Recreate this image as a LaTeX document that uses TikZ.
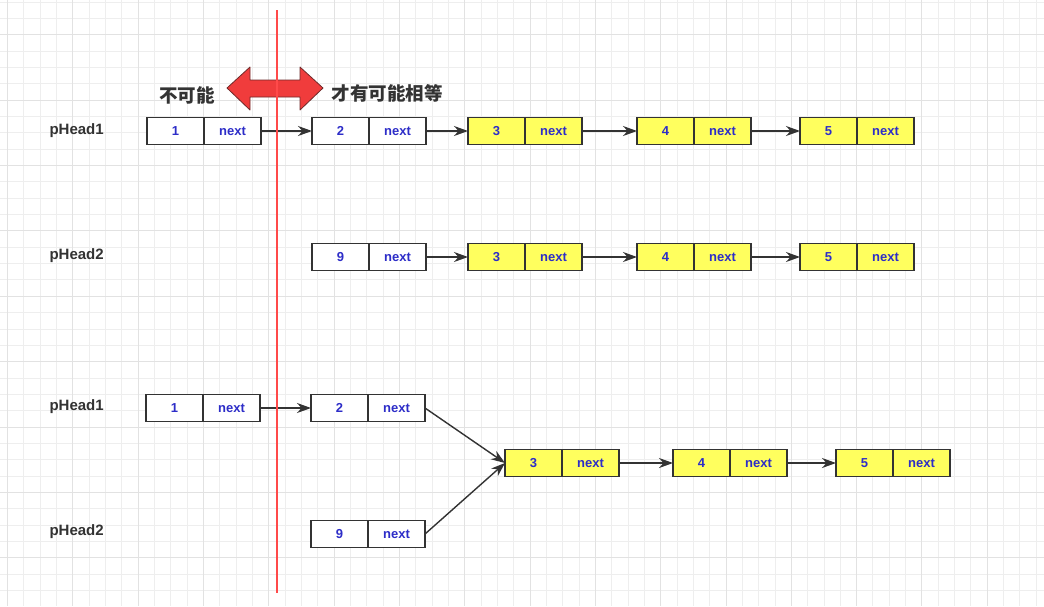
\documentclass[tikz,border=0pt]{standalone}
\usepackage{fontspec}
\setmainfont{Liberation Sans}
\newfontfamily\cjk{Noto Sans CJK SC}
\usepackage{tikz}
\usetikzlibrary{arrows.meta,positioning}
\definecolor{listink}{HTML}{333333}
\definecolor{listblue}{HTML}{2D2DC8}
\definecolor{listbox}{HTML}{333333}
\definecolor{listarrow}{HTML}{333333}
\definecolor{listyellow}{HTML}{FFFF5E}
\definecolor{listred}{HTML}{F03C3C}
\definecolor{listredline}{HTML}{FF4A4A}
\definecolor{listrededge}{HTML}{6E2A2A}
\definecolor{listgridminor}{HTML}{EEEEEE}
\definecolor{listgridmajor}{HTML}{E2E2E2}

\begin{document}
\begin{tikzpicture}[
    x=1pt,
    y=-1pt,
    valcell/.style={draw=listbox, fill=white, line width=1.3pt, minimum width=57pt, minimum height=27pt,
      inner sep=0pt, outer sep=0pt, text=listblue, font=\fontsize{13}{13}\selectfont\bfseries},
    hitcell/.style={valcell, fill=listyellow},
    link/.style={-{Stealth[length=14pt,width=10pt]}, line width=1.4pt, draw=listarrow},
    headlabel/.style={anchor=west, font=\fontsize{15}{15}\selectfont\bfseries, text=listink},
    cjklabel/.style={font=\cjk\fontsize{18.5}{18.5}\selectfont\bfseries, text=listink}
  ]
    \useasboundingbox (0,0) rectangle (1044,606);
    \fill[white] (0,0) rectangle (1044,606);
    \begin{scope}
      \clip (0,0) rectangle (1044,606);
      \foreach \i in {0,...,63} {
        \draw[listgridminor, line width=1pt] ({round(7+16.33*\i)+0.5},0) -- ++(0,606);
      }
      \foreach \j in {0,...,36} {
        \draw[listgridminor, line width=1pt] (0,{round(1.5+16.35*\j)+0.5}) -- ++(1044,0);
      }
      \foreach \i in {0,...,15} {
        \draw[listgridmajor, line width=1pt] ({round(7+65.32*\i)+0.5},0) -- ++(0,606);
      }
      \foreach \j in {0,...,8} {
        \draw[listgridmajor, line width=1pt] (0,{round(34.2+65.4*\j)+0.5}) -- ++(1044,0);
      }
    \end{scope}

    % list heads
    \node[headlabel] (head1a) at (46,131) {pHead1};
    \node[headlabel] (head2a) at (46,256) {pHead2};
    \node[headlabel] (head1b) at (46,407) {pHead1};
    \node[headlabel] (head2b) at (46,532) {pHead2};

    % first pair: pHead1
    \node[valcell] (a1) at (175.5,131) {1};
    \node[valcell, right=0pt of a1] (a1n) {next};
    \node[valcell] (a2) at (340.5,131) {2};
    \node[valcell, right=0pt of a2] (a2n) {next};
    \node[hitcell] (a3) at (496.5,131) {3};
    \node[hitcell, right=0pt of a3] (a3n) {next};
    \node[hitcell] (a4) at (665.5,131) {4};
    \node[hitcell, right=0pt of a4] (a4n) {next};
    \node[hitcell] (a5) at (828.5,131) {5};
    \node[hitcell, right=0pt of a5] (a5n) {next};

    % first pair: pHead2
    \node[valcell] (b9) at (340.5,257) {9};
    \node[valcell, right=0pt of b9] (b9n) {next};
    \node[hitcell] (b3) at (496.5,257) {3};
    \node[hitcell, right=0pt of b3] (b3n) {next};
    \node[hitcell] (b4) at (665.5,257) {4};
    \node[hitcell, right=0pt of b4] (b4n) {next};
    \node[hitcell] (b5) at (828.5,257) {5};
    \node[hitcell, right=0pt of b5] (b5n) {next};

    \draw[link] (a1n) -- (a2);
    \draw[link] (a2n) -- (a3);
    \draw[link] (a3n) -- (a4);
    \draw[link] (a4n) -- (a5);
    \draw[link] (b9n) -- (b3);
    \draw[link] (b3n) -- (b4);
    \draw[link] (b4n) -- (b5);

    % merged lists
    \node[valcell] (c1) at (174.5,408) {1};
    \node[valcell, right=0pt of c1] (c1n) {next};
    \node[valcell] (c2) at (339.5,408) {2};
    \node[valcell, right=0pt of c2] (c2n) {next};
    \node[valcell] (d9) at (339.5,534) {9};
    \node[valcell, right=0pt of d9] (d9n) {next};
    \node[hitcell] (c3) at (533.5,463) {3};
    \node[hitcell, right=0pt of c3] (c3n) {next};
    \node[hitcell] (c4) at (701.5,463) {4};
    \node[hitcell, right=0pt of c4] (c4n) {next};
    \node[hitcell] (c5) at (864.5,463) {5};
    \node[hitcell, right=0pt of c5] (c5n) {next};

    \draw[link] (c1n) -- (c2);
    \draw[link] (c2n.east) -- (c3.west);
    \draw[link] (d9n.east) -- (c3.west);
    \draw[link] (c3n) -- (c4);
    \draw[link] (c4n) -- (c5);

    % both-way arrow and the cut line
    \filldraw[fill=listred, draw=listrededge, line width=0.8pt, line join=round]
      (227,88) -- (250,67) -- (250,80) -- (300,80) -- (300,67) -- (323,88)
      -- (300,110) -- (300,97) -- (250,97) -- (250,110) -- cycle;
    \node[cjklabel] (never) at (187,95) {不可能};
    \node[cjklabel] (maybe) at (387,93) {才有可能相等};
    \draw[listredline, line width=1.2pt] (277,10) -- (277,593);

  \end{tikzpicture}
\end{document}
